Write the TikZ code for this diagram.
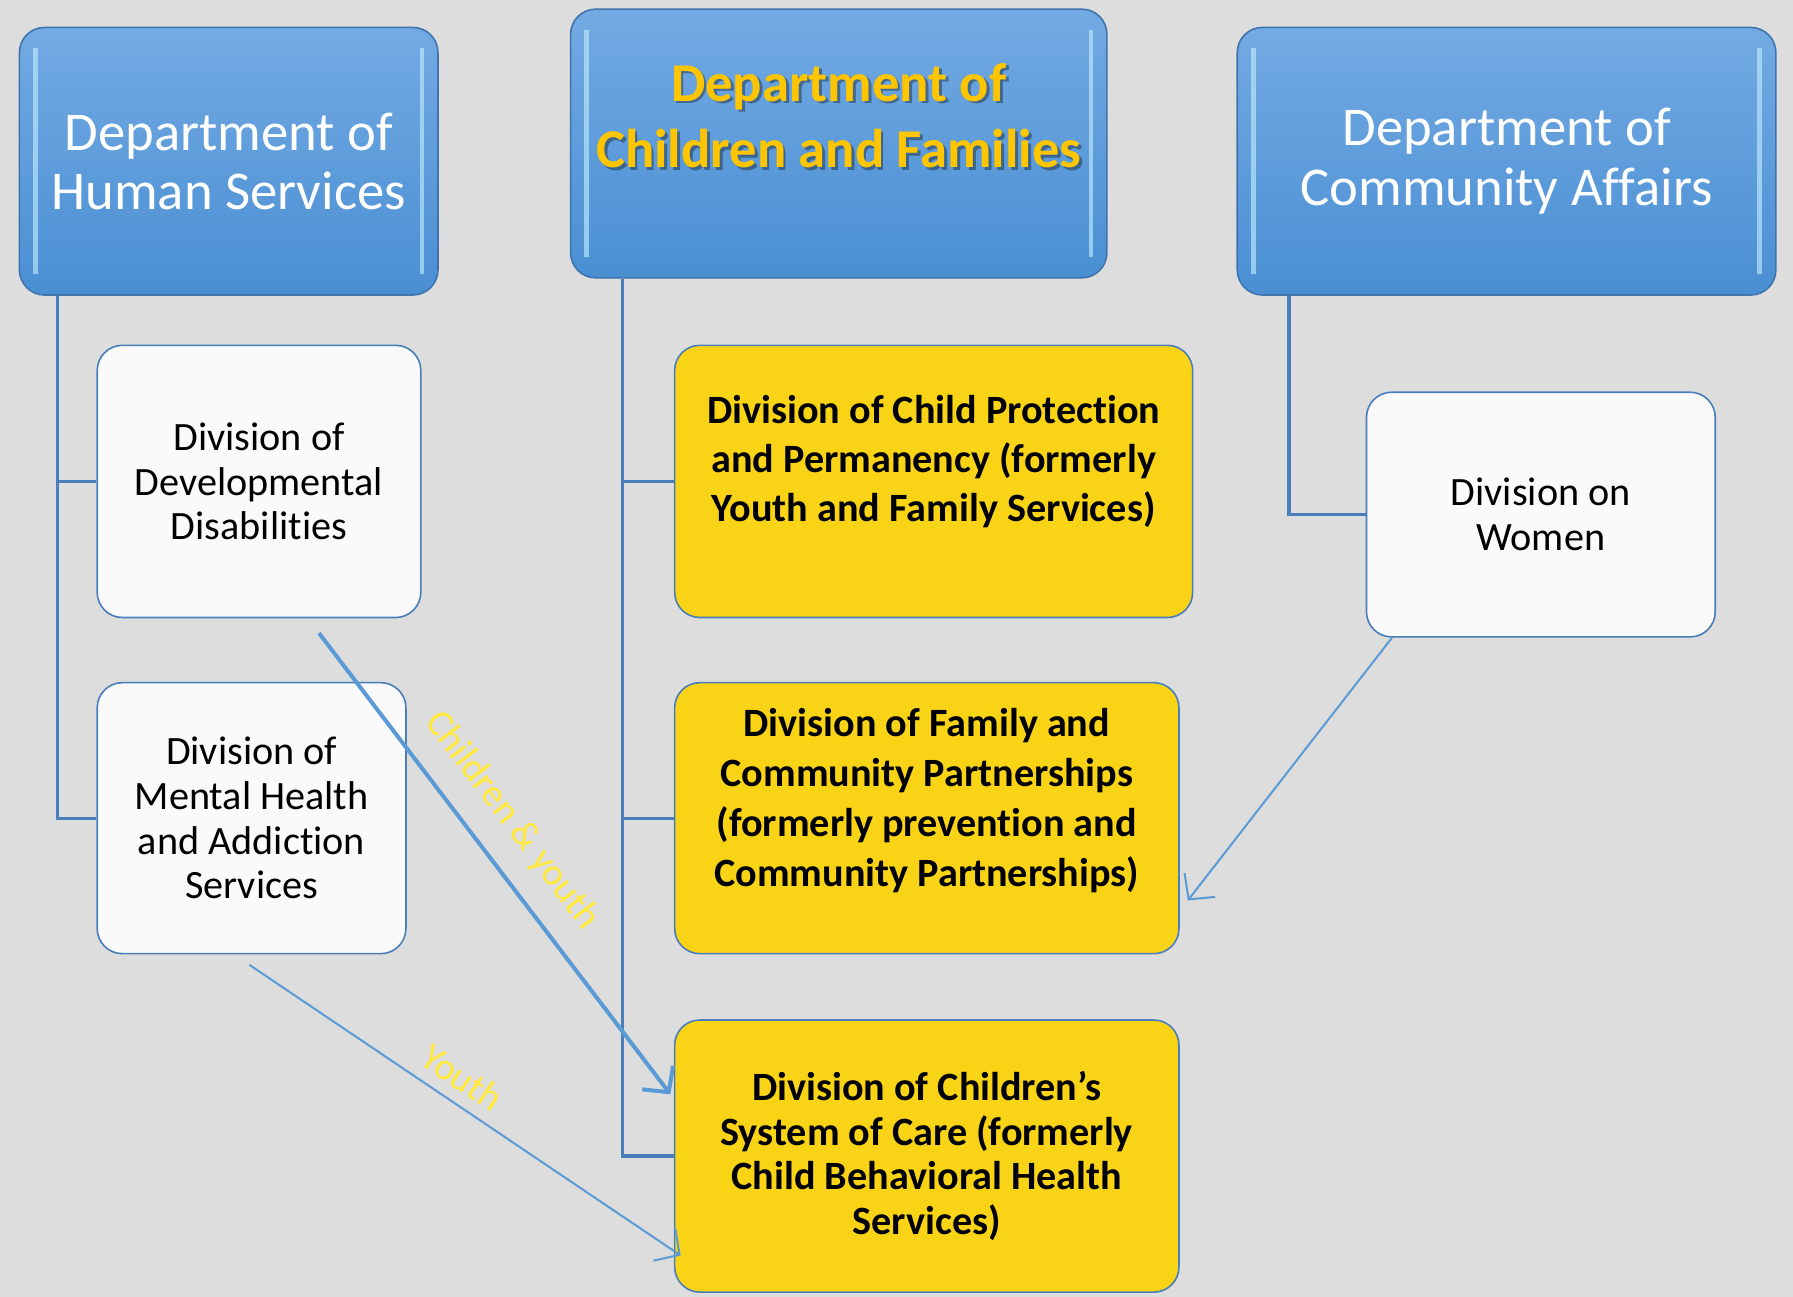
\documentclass[tikz,border=0pt]{standalone}
\usepackage{fontspec}
\setmainfont{Carlito}[Ligatures=NoCommon]
\usetikzlibrary{arrows.meta}
\definecolor{bggray}{HTML}{DDDDDD}
\definecolor{depttop}{HTML}{73AAE3}
\definecolor{deptbot}{HTML}{4A8FD3}
\definecolor{deptedge}{HTML}{3F74AE}
\definecolor{divyellow}{HTML}{F9D416}
\definecolor{treeblue}{HTML}{4A7EBB}
\definecolor{arrowblue}{HTML}{5B9BD5}
\definecolor{titlegold}{HTML}{FFC600}
\definecolor{tagyellow}{HTML}{FFE83A}

\begin{document}
\begin{tikzpicture}[
  dept/.style={draw=deptedge, top color=depttop, bottom color=deptbot, rounded corners=2.2mm, align=center, text=white,
    font=\fontsize{13.6}{14.8}\selectfont,
    path picture={
      \draw[cyan!25!white, line width=1.2pt, opacity=.65] ([xshift=1.4mm,yshift=-1.8mm]path picture bounding box.north west) -- ([xshift=1.4mm,yshift=1.8mm]path picture bounding box.south west);
      \draw[cyan!25!white, line width=1.2pt, opacity=.65] ([xshift=-1.4mm,yshift=-1.8mm]path picture bounding box.north east) -- ([xshift=-1.4mm,yshift=1.8mm]path picture bounding box.south east);
    }},
  whitebox/.style={draw=treeblue, fill=white!98!black, rounded corners=2.2mm, align=center, font=\fontsize{10}{11.1}\selectfont},
  yellowbox/.style={draw=treeblue, fill=divyellow, rounded corners=2.2mm, align=center, font=\bfseries\fontsize{10}{12.3}\selectfont},
  tree/.style={treeblue, line width=0.8pt},
  link/.style={arrowblue, -{Straight Barb[length=1.6mm, width=3.4mm]}},
  tag/.style={text=tagyellow, font=\fontsize{9.5}{10}\selectfont, sloped, above}
]
\fill[bggray] (0,0) rectangle (15.68,11.34);
\useasboundingbox (0,0) rectangle (15.68,11.34);

% departments
\node[dept, minimum width=3.66cm, minimum height=2.34cm] (dhs) at (2.00,9.93) {Department of\\Human Services};
\node[dept, minimum width=4.69cm, minimum height=2.35cm] (dcf) at (7.335,10.085) {};
\node[dept, minimum width=4.71cm, minimum height=2.34cm] (dca) at (13.175,9.93) {Department of\\Community Affairs};
\node[font=\bfseries\fontsize{13.6}{16.5}\selectfont, text=black, opacity=.35, align=center] (dcf-shade) at ([xshift=0.25mm,yshift=2.2mm]dcf.center) {Department of\\Children and Families};
\node[font=\bfseries\fontsize{13.6}{16.5}\selectfont, text=titlegold, align=center] (dcf-title) at ([yshift=2.45mm]dcf.center) {Department of\\Children and Families};

% divisions
\node[whitebox, minimum width=2.83cm, minimum height=2.38cm] (ddd) at (2.265,7.13) {Division of\\Developmental\\Disabilities};
\node[whitebox, minimum width=2.70cm, minimum height=2.37cm] (dmhas) at (2.20,4.185) {Division of\\Mental Health\\and Addiction\\Services};
\node[yellowbox, minimum width=4.53cm, minimum height=2.38cm] (dcpp) at (8.165,7.13) {};
\node[yellowbox, minimum width=4.41cm, minimum height=2.37cm] (dfcp) at (8.105,4.185) {};
\node[yellowbox, minimum width=4.41cm, minimum height=2.38cm, font=\bfseries\fontsize{10}{11.1}\selectfont] (dcsc) at (8.105,1.23) {Division of Children’s\\System of Care (formerly\\Child Behavioral Health\\Services)};
\node[whitebox, minimum width=3.05cm, minimum height=2.14cm] (dow) at (13.475,6.84) {Division on\\Women};
\node[font=\bfseries\fontsize{10}{12.2}\selectfont, align=center] (dcpp-text) at ([yshift=1.7mm]dcpp.center) {Division of Child Protection\\and Permanency (formerly\\Youth and Family Services)};
\node[font=\bfseries\fontsize{10}{12.4}\selectfont, align=center] (dfcp-text) at ([yshift=1.55mm]dfcp.center) {Division of Family and\\Community Partnerships\\(formerly prevention and\\Community Partnerships)};

% tree lines
\draw[tree] ([xshift=3.4mm]dhs.south west) |- (ddd.west);
\draw[tree] ([xshift=3.4mm]dhs.south west) |- (dmhas.west);
\draw[tree] ([xshift=4.6mm]dcf.south west) |- (dcpp.west);
\draw[tree] ([xshift=4.6mm]dcf.south west) |- (dfcp.west);
\draw[tree] ([xshift=4.6mm]dcf.south west) |- (dcsc.west);
\draw[tree] ([xshift=4.6mm]dca.south west) |- (dow.west);

% cross links
\draw[link, line width=1pt] ([xshift=5.25mm,yshift=-1.3mm]ddd.south) -- ([xshift=-0.3mm,yshift=5.4mm]dcsc.west) node[tag, pos=0.46, above=2pt] {Children \& youth};
\draw[link, line width=0.5pt] ([xshift=-0.2mm,yshift=-0.9mm]dmhas.south) -- ([xshift=0.6mm,yshift=-8.7mm]dcsc.west) node[tag, pos=0.46, above=-0.5pt] {Youth};
\draw[link, line width=0.5pt] ([xshift=2.3mm]dow.south west) -- ([xshift=0.7mm,yshift=-7.2mm]dfcp.east);
\end{tikzpicture}
\end{document}
